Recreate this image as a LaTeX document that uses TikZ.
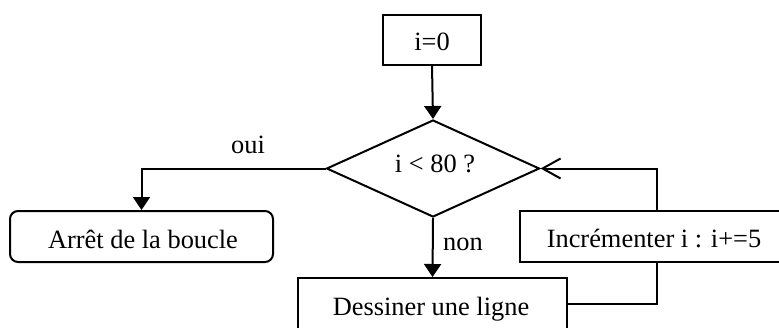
\documentclass[tikz,border=0pt]{standalone}
\usepackage{fontspec}
\setmainfont{Liberation Serif}
\usetikzlibrary{shapes.geometric,arrows.meta}
\begin{document}
\begin{tikzpicture}[x=0.5pt,y=-0.5pt,
  every node/.style={font=\fontsize{13.2}{16}\selectfont},
  txt/.style={anchor=base,inner sep=0pt},
  box/.style={draw,line width=1pt,rectangle,inner sep=0pt},
  dec/.style={draw,line width=1pt,diamond,inner sep=0pt,shape aspect=2.2},
  flow/.style={line width=1pt,-{Triangle[length=6.5pt,width=8.5pt]}},
  back/.style={line width=1pt,-{Straight Barb[length=9pt,width=10pt,line width=1pt]}},
  plain/.style={line width=1pt}]
\clip (0,0) rectangle (779,327);
\fill[white] (0,0) rectangle (779,327);
\node[box,minimum width=49pt,minimum height=25pt] (init) at (432,40) {};
\node[txt] (tinit) at (432,50) {i=0};
\node[dec,minimum width=106.5pt,minimum height=48.5pt] (cond) at (433,168.5) {};
\node[txt] (tcond) at (435,172) {i < 80 ?};
\node[box,rounded corners=4pt,minimum width=131.5pt,minimum height=25.5pt] (stop) at (141.5,236.5) {};
\node[txt] (tstop) at (143,248) {Arrêt de la boucle};
\node[box,minimum width=134.5pt,minimum height=26pt] (dess) at (432.5,304) {};
\node[txt] (tdess) at (431,315) {Dessiner une ligne};
\node[box,minimum width=137pt,minimum height=25.5pt] (inc) at (657,236.5) {};
\node[txt] (tinc) at (654,247) {Incrémenter i : i+=5};
\node[txt] (oui) at (248,153) {oui};
\node[txt] (non) at (463,250) {non};
\draw[flow] (init.south) -- (cond.north);
\draw[flow] (cond.west) -| (stop.north);
\draw[flow] (cond.south) -- (dess.north);
\draw[plain] (dess.east) -| (inc.south);
\draw[back] (inc.north) |- (cond.east);
\end{tikzpicture}
\end{document}
